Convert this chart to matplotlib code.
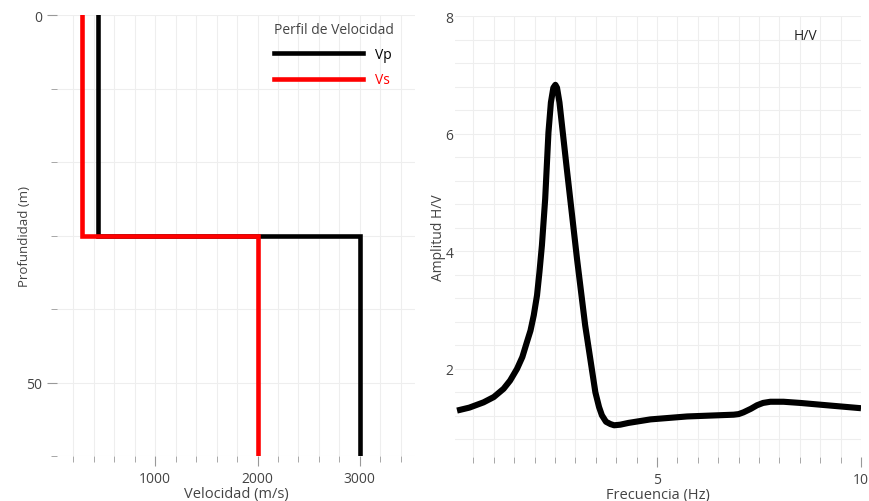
import numpy as np
import matplotlib
matplotlib.use("Agg")
import matplotlib.pyplot as plt
from matplotlib.ticker import MultipleLocator, FixedLocator, NullFormatter

# velocity profile (step model)
depth = [0, 30, 30, 60]
vp = [440, 440, 3000, 3000]
vs = [280, 280, 2000, 2000]

# H/V spectral ratio curve
freq = [0.1, 0.4, 0.75, 1.0, 1.24, 1.4, 1.57, 1.7, 1.81, 1.9, 1.98, 2.06, 2.12,
        2.18, 2.26, 2.34, 2.40, 2.46, 2.51, 2.55, 2.61, 2.79, 3.04, 3.24, 3.49,
        3.58, 3.65, 3.75, 3.86, 3.95, 4.1, 4.30, 4.84, 5.74, 6.88, 7.0, 7.12, 7.3,
        7.45, 7.6, 7.78, 8.1, 8.51, 9.0, 9.5, 10.0]
hv = [1.29, 1.34, 1.43, 1.52, 1.66, 1.80, 2.0, 2.2, 2.45, 2.65, 2.91, 3.25, 3.65,
      4.10, 4.89, 6.02, 6.53, 6.78, 6.83, 6.78, 6.53, 5.40, 3.87, 2.74, 1.60,
      1.35, 1.21, 1.10, 1.06, 1.04, 1.05, 1.08, 1.14, 1.19, 1.22, 1.23, 1.26, 1.32,
      1.38, 1.42, 1.44, 1.44, 1.42, 1.39, 1.36, 1.33]

TXT = "#444444"
GRID = "#eeeeee"
RED = "#ff0000"

plt.rcParams["font.family"] = ["Open Sans", "DejaVu Sans"]
plt.rcParams["font.size"] = 10

fig = plt.figure(figsize=(8.69, 5.02), dpi=100)
ax1 = fig.add_axes([0.0656, 0.0896, 0.412, 0.8785])
ax2 = fig.add_axes([0.5236, 0.0876, 0.4672, 0.8785])

for ax in (ax1, ax2):
    for s in ax.spines.values():
        s.set_visible(False)
    ax.set_axisbelow(True)
    ax.grid(True, which="both", color=GRID, linewidth=0.8)

# left: velocity profile
ax1.plot(vp, depth, color="black", linewidth=3.3, solid_joinstyle="miter", label="Vp")
ax1.plot(vs, depth, color=RED, linewidth=3.3, solid_joinstyle="miter", label="Vs")
ax1.set_xlim(40, 3540)
ax1.set_ylim(60, 0)
ax1.xaxis.set_major_locator(FixedLocator([1000, 2000, 3000]))
ax1.xaxis.set_minor_locator(MultipleLocator(200))
ax1.yaxis.set_major_locator(FixedLocator([0, 50]))
ax1.yaxis.set_minor_locator(MultipleLocator(10))
ax1.yaxis.set_minor_formatter(NullFormatter())
ax1.tick_params(axis="both", which="major", length=7, color="#999999", labelcolor=TXT, labelsize=10)
ax1.tick_params(axis="both", which="minor", length=4, color="#999999")
ax1.set_xlabel("Velocidad (m/s)", color=TXT, fontsize=10.5, labelpad=0)
ax1.set_ylabel("Profundidad (m)", color=TXT, fontsize=9.5, labelpad=-3)
leg = ax1.legend(title="Perfil de Velocidad", loc="upper left", bbox_to_anchor=(0.605, 0.985),
                 frameon=False, handlelength=6.4, handletextpad=0.9, labelspacing=0.75,
                 borderpad=0, borderaxespad=0, alignment="left", fontsize=10,
                 title_fontsize=10, labelcolor="linecolor")
leg.get_title().set_color(TXT)

# right: H/V curve
ax2.plot(freq, hv, color="black", linewidth=4.4, solid_joinstyle="round",
         solid_capstyle="butt")
ax2.set_xlim(0.05, 10)
ax2.set_ylim(0.5, 8)
ax2.xaxis.set_major_locator(FixedLocator([5, 10]))
ax2.xaxis.set_minor_locator(MultipleLocator(0.5))
ax2.yaxis.set_major_locator(FixedLocator([2, 4, 6, 8]))
ax2.yaxis.set_minor_locator(MultipleLocator(0.4))
ax2.tick_params(axis="x", which="major", length=7, color="#999999", labelcolor=TXT, labelsize=10)
ax2.tick_params(axis="x", which="minor", length=4, color="#999999")
ax2.tick_params(axis="y", which="both", length=0, labelcolor=TXT, labelsize=10, pad=1)
ax2.set_xlabel("Frecuencia (Hz)", color=TXT, fontsize=10.5, labelpad=0)
ax2.set_ylabel("Amplitud H/V", color=TXT, fontsize=10, labelpad=0)
ax2.text(0.833, 0.955, "H/V", transform=ax2.transAxes, fontsize=10, color="#222222",
         ha="left", va="center")

fig.savefig("out.png", dpi=100)
